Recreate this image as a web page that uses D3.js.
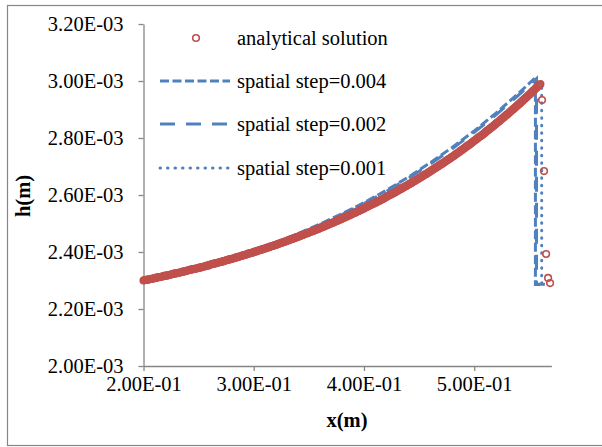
<!DOCTYPE html>
<html>
<head>
<meta charset="utf-8">
<script src="https://cdn.jsdelivr.net/npm/d3@7"></script>
<style>
  body { margin: 0; background: #fff; }
  text { font-family: "Times New Roman", "Liberation Serif", serif; fill: #000; }
</style>
</head>
<body>
<div id="chart"></div>
<script>
// all h values are in units of 1e-3 m
const gridStart = 0.2, gridStep = 0.001; // x grid of the analytical solution
const hAnalytic = [
  2.300,2.301,2.302,2.302,2.303,2.304,2.305,2.306,2.306,2.307,
  2.308,2.309,2.310,2.311,2.312,2.312,2.313,2.314,2.315,2.316,
  2.317,2.317,2.318,2.319,2.320,2.321,2.322,2.323,2.324,2.325,
  2.326,2.326,2.327,2.328,2.329,2.330,2.331,2.332,2.333,2.334,
  2.335,2.336,2.337,2.338,2.339,2.340,2.341,2.341,2.342,2.343,
  2.344,2.345,2.346,2.347,2.348,2.349,2.350,2.351,2.352,2.353,
  2.355,2.356,2.357,2.358,2.359,2.360,2.361,2.362,2.363,2.364,
  2.365,2.366,2.367,2.368,2.369,2.371,2.372,2.373,2.374,2.375,
  2.376,2.377,2.378,2.379,2.381,2.382,2.383,2.384,2.385,2.386,
  2.388,2.389,2.390,2.391,2.392,2.394,2.395,2.396,2.397,2.398,
  2.400,2.401,2.402,2.403,2.405,2.406,2.407,2.408,2.410,2.411,
  2.412,2.413,2.415,2.416,2.417,2.419,2.420,2.421,2.422,2.424,
  2.425,2.426,2.428,2.429,2.431,2.432,2.433,2.435,2.436,2.437,
  2.439,2.440,2.442,2.443,2.445,2.446,2.447,2.449,2.450,2.452,
  2.453,2.455,2.456,2.458,2.459,2.461,2.462,2.464,2.465,2.467,
  2.468,2.470,2.471,2.473,2.474,2.476,2.477,2.479,2.480,2.482,
  2.484,2.485,2.487,2.488,2.490,2.492,2.493,2.495,2.497,2.498,
  2.500,2.502,2.503,2.505,2.507,2.508,2.510,2.512,2.513,2.515,
  2.517,2.519,2.520,2.522,2.524,2.526,2.527,2.529,2.531,2.533,
  2.535,2.536,2.538,2.540,2.542,2.544,2.546,2.547,2.549,2.551,
  2.553,2.555,2.557,2.559,2.561,2.563,2.565,2.567,2.568,2.570,
  2.572,2.574,2.576,2.578,2.580,2.582,2.584,2.586,2.588,2.590,
  2.593,2.595,2.597,2.599,2.601,2.603,2.605,2.607,2.609,2.611,
  2.614,2.616,2.618,2.620,2.622,2.625,2.627,2.629,2.631,2.633,
  2.636,2.638,2.640,2.642,2.645,2.647,2.649,2.652,2.654,2.656,
  2.659,2.661,2.663,2.666,2.668,2.671,2.673,2.675,2.678,2.680,
  2.683,2.685,2.688,2.690,2.693,2.695,2.698,2.700,2.703,2.705,
  2.708,2.710,2.713,2.715,2.718,2.721,2.723,2.726,2.728,2.731,
  2.734,2.736,2.739,2.742,2.745,2.747,2.750,2.753,2.756,2.758,
  2.761,2.764,2.767,2.770,2.773,2.775,2.778,2.781,2.784,2.787,
  2.790,2.793,2.796,2.799,2.802,2.805,2.807,2.810,2.813,2.816,
  2.819,2.823,2.826,2.829,2.832,2.835,2.838,2.841,2.844,2.847,
  2.851,2.854,2.857,2.860,2.864,2.867,2.870,2.873,2.877,2.880,
  2.883,2.886,2.890,2.893,2.897,2.900,2.903,2.907,2.910,2.914,
  2.917,2.920,2.924,2.928,2.931,2.935,2.938,2.942,2.945,2.949,
  2.952,2.956,2.960,2.964,2.967,2.971,2.975,2.978,2.982,2.986,
  2.989
];
// points of the analytical solution across the front
const xFront = [0.5615, 0.5633, 0.5652, 0.5670, 0.5688];
const hFront = [2.933, 2.684, 2.393, 2.309, 2.291];

const step004X = [0.20,0.22,0.24,0.26,0.28,0.30,0.32,0.34,0.36,0.38,0.40,0.42,0.44,0.46,0.48,0.50,0.52,0.54,0.5555,0.5555,0.5636];
const step004H = [2.300,2.318,2.337,2.358,2.381,2.407,2.434,2.464,2.498,2.534,2.573,2.616,2.662,2.713,2.767,2.825,2.888,2.956,3.012,2.286,2.286];
const step002X = [0.20,0.22,0.24,0.26,0.28,0.30,0.32,0.34,0.36,0.38,0.40,0.42,0.44,0.46,0.48,0.50,0.52,0.54,0.5565,0.5565,0.5640];
const step002H = [2.300,2.318,2.336,2.357,2.380,2.405,2.433,2.462,2.495,2.531,2.570,2.612,2.658,2.708,2.762,2.820,2.882,2.950,3.008,2.287,2.287];
const step001X = [0.20,0.22,0.24,0.26,0.28,0.30,0.32,0.34,0.36,0.38,0.40,0.42,0.44,0.46,0.48,0.50,0.52,0.54,0.5612,0.5612,0.5660];
const step001H = [2.300,2.317,2.335,2.355,2.377,2.401,2.427,2.456,2.487,2.521,2.559,2.600,2.644,2.692,2.744,2.800,2.861,2.928,2.998,2.289,2.289];

const seriesNames = ["analytical solution", "spatial step=0.004", "spatial step=0.002", "spatial step=0.001"];
const xTicks = [0.2, 0.3, 0.4, 0.5];
const yTicks = [2.0, 2.2, 2.4, 2.6, 2.8, 3.0, 3.2];

const width = 602, height = 447;
const red = "#C0504D", blue = "#4F81BD", gray = "#868686";

// Excel style scientific label, e.g. 2.00E-03
function sci(v) {
  const [m, e] = v.toExponential(2).split("e");
  const n = Math.abs(+e);
  return m + "E" + (+e < 0 ? "-" : "+") + String(n).padStart(2, "0");
}

const svg = d3.select("#chart").append("svg")
  .attr("width", width)
  .attr("height", height)
  .style("display", "block");

svg.append("rect").attr("width", width).attr("height", height).attr("fill", "#fff");
// outer chart frame
svg.append("rect")
  .attr("x", 7.5).attr("y", 5.5)
  .attr("width", 600).attr("height", 440)
  .attr("fill", "none").attr("stroke", gray).attr("stroke-width", 1.2);

const x = d3.scaleLinear().domain([0.2, 0.57]).range([143.5, 551.4]);
const y = d3.scaleLinear().domain([2.0, 3.2]).range([366, 24]);

const xAxis = svg.append("g")
  .attr("transform", "translate(0,366)")
  .call(d3.axisBottom(x).tickValues(xTicks).tickSize(5).tickSizeOuter(0).tickPadding(5).tickFormat(sci));
const yAxis = svg.append("g")
  .attr("transform", "translate(143.5,0)")
  .call(d3.axisLeft(y).tickValues(yTicks).tickSize(5).tickSizeOuter(0).tickPadding(15).tickFormat(d => sci(d * 1e-3)));

[xAxis, yAxis].forEach(g => {
  g.select(".domain").attr("stroke", gray).attr("stroke-width", 1.3);
  g.selectAll(".tick line").attr("stroke", gray).attr("stroke-width", 1.3);
  g.selectAll(".tick text")
    .attr("font-size", "20.5px")
    .attr("font-family", '"Times New Roman", "Liberation Serif", serif')
    .attr("fill", "#000");
});

// axis titles
svg.append("text")
  .attr("x", 347).attr("y", 427)
  .attr("text-anchor", "middle")
  .attr("font-size", "20.5px").attr("font-weight", "bold")
  .text("x(m)");
svg.append("text")
  .attr("transform", "translate(30,196) rotate(-90)")
  .attr("text-anchor", "middle")
  .attr("font-size", "20.5px").attr("font-weight", "bold")
  .text("h(m)");

const line = d3.line().x(d => x(d[0])).y(d => y(d[1]));

const numeric = [
  { xs: step004X, hs: step004H, dash: "9,3.5", cap: "butt" },
  { xs: step002X, hs: step002H, dash: "15,11", cap: "butt" },
  { xs: step001X, hs: step001H, dash: "0.5,7", cap: "round" }
];

numeric.forEach(s => {
  svg.append("path")
    .datum(s.xs.map((v, i) => [v, s.hs[i]]))
    .attr("d", line)
    .attr("fill", "none")
    .attr("stroke", blue)
    .attr("stroke-width", 3)
    .attr("stroke-dasharray", s.dash)
    .attr("stroke-linecap", s.cap);
});

const analyticPts = hAnalytic.map((h, i) => [gridStart + i * gridStep, h])
  .concat(xFront.map((v, i) => [v, hFront[i]]));

svg.append("g").selectAll("circle")
  .data(analyticPts)
  .join("circle")
  .attr("cx", d => x(d[0]))
  .attr("cy", d => y(d[1]))
  .attr("r", 3.3)
  .attr("fill", "none")
  .attr("stroke", red)
  .attr("stroke-width", 1.6);

// legend
const legendY = [38, 81, 124, 168];
const legend = svg.append("g");
legend.append("circle")
  .attr("cx", 196).attr("cy", legendY[0]).attr("r", 3.3)
  .attr("fill", "none").attr("stroke", red).attr("stroke-width", 1.6);
numeric.forEach((s, i) => {
  legend.append("line")
    .attr("x1", 160).attr("x2", 230)
    .attr("y1", legendY[i + 1]).attr("y2", legendY[i + 1])
    .attr("stroke", blue).attr("stroke-width", 3)
    .attr("stroke-dasharray", s.dash)
    .attr("stroke-linecap", s.cap);
});
seriesNames.forEach((name, i) => {
  legend.append("text")
    .attr("x", 237).attr("y", legendY[i] + 6.5)
    .attr("font-size", "20.5px")
    .text(name);
});
</script>
</body>
</html>
